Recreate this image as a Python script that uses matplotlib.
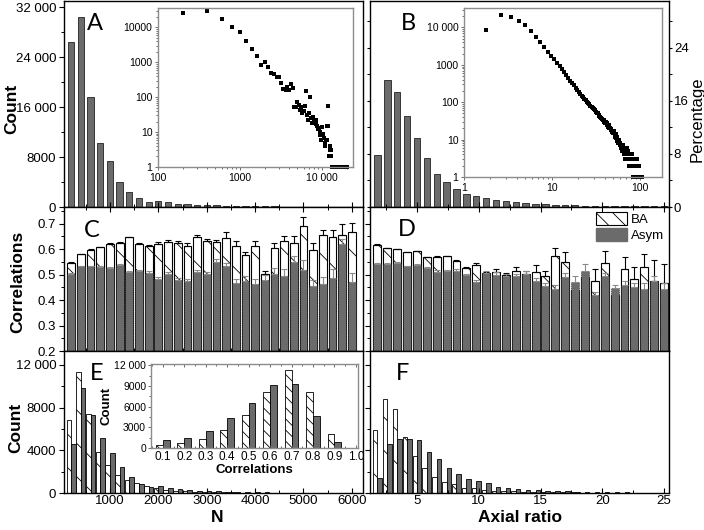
import numpy as np
import matplotlib
matplotlib.use("Agg")
import matplotlib.pyplot as plt
from matplotlib.patches import Patch
from matplotlib.ticker import MultipleLocator, NullFormatter, LogLocator

plt.rcParams["font.family"] = ["Liberation Sans", "DejaVu Sans"]
plt.rcParams["hatch.linewidth"] = 0.6

# ------------------------------------------------------------------ data
# Histogram of N: bins of 200, centres 200 ... 20 000
n_step = 200
n_counts = [
    26500, 30500, 17600, 10200, 7400, 4000, 2400, 1500, 850, 1000,
    750, 500, 450, 370, 390, 250, 170, 160, 190, 165,
    240, 180, 54, 52, 75, 60, 44, 52, 35, 39,
    56, 155, 30, 22, 35, 100, 25, 18, 27, 21,
    19, 22, 17, 15, 12, 13, 10, 8, 6, 14,
    8, 9, 7, 4, 5, 6, 6, 15, 56, 15,
    2, 3, 4, 2, 3, 1, 1, 0, 1, 1,
    0, 1, 1, 0, 1, 1, 0, 1, 1, 1,
    1, 0, 1, 1, 0, 1, 1, 1, 0, 1,
    1, 1, 0, 1, 1, 0, 1, 1, 1, 1,
]

# Histogram of the axial ratio: bins of 0.8, first centre 1.8
ar_first, ar_step = 1.8, 0.8
ar_counts = [
    8500, 20800, 18900, 14900, 11400, 8100, 5500, 4150, 3000, 2200,
    1750, 1400, 1150, 950, 780, 650, 540, 450, 380, 325,
    280, 245, 215, 190, 168, 150, 135, 122, 112, 102,
    95, 88, 80, 76, 70, 64, 62, 56, 52, 50,
    46, 44, 40, 38, 36, 33, 34, 30, 28, 29,
    25, 27, 22, 24, 20, 21, 18, 19, 16, 17,
    15, 17, 13, 12, 14, 11, 12, 9, 10, 8,
    10, 7, 8, 6, 7, 5, 6, 7, 5, 4,
    6, 5, 4, 3, 5, 4, 6, 3, 4, 3,
    5, 4, 2, 3, 4, 2, 3, 2, 3, 2,
    4, 2, 3, 1, 2, 3, 2, 1, 3, 2,
    1, 2, 3, 1, 2, 1, 2, 1, 1, 2,
    1, 1, 1, 0, 1, 1, 0, 1, 1, 1,
]

# Correlations against N (panel C)
ba_n = [0.547, 0.580, 0.598, 0.608, 0.620, 0.624, 0.646, 0.618, 0.612, 0.621,
        0.629, 0.625, 0.612, 0.649, 0.630, 0.627, 0.645, 0.612, 0.578, 0.611,
        0.503, 0.604, 0.630, 0.625, 0.690, 0.595, 0.654, 0.649, 0.657, 0.668]
ba_n_err = [0.002, 0.002, 0.002, 0.002, 0.003, 0.003, 0.003, 0.004, 0.004, 0.005,
            0.008, 0.007, 0.010, 0.008, 0.010, 0.007, 0.020, 0.020, 0.012, 0.020,
            0.012, 0.018, 0.021, 0.026, 0.035, 0.030, 0.020, 0.024, 0.040, 0.034]
asym_n = [0.503, 0.532, 0.532, 0.530, 0.524, 0.537, 0.509, 0.512, 0.506, 0.484,
          0.503, 0.479, 0.473, 0.509, 0.501, 0.549, 0.532, 0.468, 0.476, 0.464,
          0.479, 0.503, 0.496, 0.549, 0.517, 0.454, 0.464, 0.486, 0.618, 0.472]
asym_n_err = [0.003, 0.003, 0.003, 0.003, 0.004, 0.004, 0.005, 0.006, 0.006, 0.007,
              0.008, 0.008, 0.009, 0.010, 0.010, 0.012, 0.014, 0.016, 0.018, 0.018,
              0.020, 0.022, 0.024, 0.025, 0.040, 0.024, 0.025, 0.036, 0.020, 0.035]

# Correlations against axial ratio (panel D)
ba_ar = [0.617, 0.604, 0.600, 0.587, 0.592, 0.567, 0.569, 0.571, 0.552, 0.524,
         0.539, 0.506, 0.511, 0.498, 0.513, 0.503, 0.511, 0.494, 0.574, 0.551,
         0.440, 0.490, 0.473, 0.544, 0.420, 0.523, 0.484, 0.531, 0.476, 0.468]
ba_ar_err = [0.002, 0.002, 0.002, 0.002, 0.002, 0.003, 0.003, 0.003, 0.005, 0.007,
             0.008, 0.005, 0.010, 0.007, 0.015, 0.010, 0.025, 0.020, 0.031, 0.037,
             0.020, 0.015, 0.050, 0.050, 0.020, 0.046, 0.046, 0.051, 0.080, 0.075]
asym_ar = [0.543, 0.543, 0.545, 0.532, 0.536, 0.527, 0.511, 0.514, 0.514, 0.497,
           0.472, 0.506, 0.500, 0.493, 0.493, 0.503, 0.473, 0.454, 0.445, 0.490,
           0.472, 0.513, 0.421, 0.493, 0.447, 0.458, 0.450, 0.445, 0.473, 0.445]
asym_ar_err = [0.003, 0.003, 0.003, 0.003, 0.004, 0.004, 0.005, 0.005, 0.006, 0.007,
               0.008, 0.008, 0.009, 0.010, 0.010, 0.012, 0.013, 0.014, 0.015, 0.016,
               0.021, 0.030, 0.012, 0.015, 0.013, 0.018, 0.018, 0.020, 0.020, 0.022]

# Counts per N bin (panel E) and per axial-ratio bin (panel F)
e_ba = [6850, 11350, 7400, 3870, 2600, 1650, 1230, 950, 700, 480,
        300, 220, 160, 120, 100, 80, 65, 50, 40, 35,
        40, 25, 20, 18, 15, 12, 10, 8, 6, 5]
e_asym = [4600, 9850, 7320, 5120, 3720, 2440, 1500, 800, 600, 650,
          480, 330, 260, 210, 200, 160, 130, 100, 80, 65,
          70, 45, 35, 30, 25, 20, 16, 12, 10, 8]
f_ba = [5900, 8780, 7840, 5220, 3470, 2310, 1470, 1030, 840, 500,
        440, 280, 220, 180, 150, 120, 100, 80, 70, 60,
        50, 40, 40, 30, 30, 25, 20, 20, 15, 15]
f_asym = [1440, 4590, 5060, 5060, 4960, 3870, 3160, 2370, 1780, 1310,
          1150, 900, 590, 470, 380, 300, 250, 200, 170, 150,
          120, 100, 80, 70, 60, 50, 45, 40, 35, 30]

# Distribution of correlations (inset of E)
corr_bins = [0.1, 0.2, 0.3, 0.4, 0.5, 0.6, 0.7, 0.8, 0.9, 1.0]
corr_ba = [490, 725, 1360, 2560, 4740, 8120, 11260, 8120, 2090, 60]
corr_asym = [1120, 1500, 2460, 4350, 6520, 9090, 9230, 4590, 870, 20]

# Tick labels
count_a_ticks = [0, 8000, 16000, 24000, 32000]
count_a_labels = ["0", "8000", "16 000", "24 000", "32 000"]
count_e_ticks = [0, 4000, 8000, 12000]
count_e_labels = ["0", "4000", "8000", "12 000"]
pct_ticks = [0, 8, 16, 24]
pct_labels = ["0", "8", "16", "24"]
n_ticks = [1000, 2000, 3000, 4000, 5000, 6000]
n_labels = ["1000", "2000", "3000", "4000", "5000", "6000"]
corr_ticks = [0.2, 0.3, 0.4, 0.5, 0.6, 0.7]
corr_labels = ["0.2", "0.3", "0.4", "0.5", "0.6", "0.7"]
ins_a_x = [100, 1000, 10000]
ins_a_xl = ["100", "1000", "10 000"]
ins_a_y = [1, 10, 100, 1000, 10000]
ins_a_yl = ["1", "10", "100", "1000", "10000"]
ins_b_x = [1, 10, 100]
ins_b_xl = ["1", "10", "100"]
ins_b_y = [1, 10, 100, 1000, 10000]
ins_b_yl = ["1", "10", "100", "1000", "10 000"]
ins_e_y = [0, 3000, 6000, 9000, 12000]
ins_e_yl = ["0", "3000", "6000", "9000", "12 000"]

# ------------------------------------------------------------------ derived
n_counts = np.array(n_counts, dtype=float)
n_centres = n_step * np.arange(1, len(n_counts) + 1)
ar_counts = np.array(ar_counts, dtype=float)
ar_centres = ar_first + ar_step * np.arange(len(ar_counts))
ar_pct = 100 * ar_counts / ar_counts.sum()
n_show = 30  # bins visible in the linear panels

GREY = "#6b6b6b"
W, H = 704, 530
fig = plt.figure(figsize=(W / 100, H / 100), dpi=100)


def px_axes(left, top, right, bottom):
    return fig.add_axes([left / W, 1 - bottom / H, (right - left) / W, (bottom - top) / H])


ax_a = px_axes(64, 1, 363, 207)
ax_c = px_axes(64, 207, 363, 351)
ax_e = px_axes(64, 351, 363, 493)
ax_b = px_axes(370, 1, 669, 207)
ax_d = px_axes(370, 207, 669, 351)
ax_f = px_axes(370, 351, 669, 493)

n_xlim = (50, 6230)
ar_xlim = (1.2, 25.4)


def style_main(ax, top=False, bottom=True):
    for s in ax.spines.values():
        s.set_linewidth(1.0)
    ax.tick_params(axis="x", which="both", direction="in", top=top, bottom=bottom,
                   labelbottom=False, labelsize=9.5, pad=1.5)
    ax.tick_params(axis="y", which="both", direction="out", labelsize=9.5, pad=2)
    ax.tick_params(which="major", length=3.5, width=0.8)
    ax.tick_params(which="minor", length=2.2, width=0.7)


# --- A
nx = n_centres[:n_show]
ax_a.bar(nx, n_counts[:n_show], width=130, color=GREY, edgecolor="#222222", linewidth=0.6)
ax_a.set_xlim(*n_xlim)
ax_a.set_ylim(0, 33000)
ax_a.set_yticks(count_a_ticks, count_a_labels)
ax_a.yaxis.set_minor_locator(MultipleLocator(4000))
ax_a.xaxis.set_major_locator(MultipleLocator(1000))
ax_a.xaxis.set_minor_locator(MultipleLocator(500))
style_main(ax_a)

# --- C
ax_c.bar(nx, ba_n, width=160, color="white", edgecolor="black", hatch="\\",
         linewidth=0.8, zorder=1)
ax_c.errorbar(nx, ba_n, yerr=[np.zeros(n_show), ba_n_err], fmt="none", ecolor="black",
              elinewidth=0.8, capsize=2, capthick=0.8, zorder=1.5)
ax_c.bar(nx, asym_n, width=160, color=GREY, edgecolor="black", linestyle=":",
         linewidth=0.5, zorder=2)
ax_c.errorbar(nx, asym_n, yerr=[np.zeros(n_show), asym_n_err], fmt="none", ecolor="#8a8a8a",
              elinewidth=0.8, capsize=2, capthick=0.8, zorder=2.5)
ax_c.set_xlim(*n_xlim)
ax_c.set_ylim(0.2, 0.765)
ax_c.set_yticks(corr_ticks, corr_labels)
ax_c.yaxis.set_minor_locator(MultipleLocator(0.05))
ax_c.xaxis.set_major_locator(MultipleLocator(1000))
ax_c.xaxis.set_minor_locator(MultipleLocator(500))
style_main(ax_c, top=True)

# --- E
ax_e.bar(nx - 47, e_ba, width=94, color="white", edgecolor="black", hatch="\\", linewidth=0.6)
ax_e.bar(nx + 47, e_asym, width=94, color=GREY, edgecolor="black", linewidth=0.6)
ax_e.set_xlim(*n_xlim)
ax_e.set_ylim(0, 13300)
ax_e.set_yticks(count_e_ticks, count_e_labels)
ax_e.yaxis.set_minor_locator(MultipleLocator(2000))
ax_e.set_xticks(n_ticks, n_labels)
ax_e.xaxis.set_minor_locator(MultipleLocator(500))
style_main(ax_e)
ax_e.tick_params(axis="x", labelbottom=True)

# --- B
ax_x = ar_centres[:n_show]
ax_b.bar(ax_x, ar_pct[:n_show], width=0.52, color=GREY, edgecolor="#222222", linewidth=0.6)
ax_b.set_xlim(*ar_xlim)
ax_b.set_ylim(0, 31)
ax_b.yaxis.tick_right()
ax_b.set_yticks(pct_ticks, pct_labels)
ax_b.yaxis.set_minor_locator(MultipleLocator(4))
ax_b.xaxis.set_major_locator(MultipleLocator(5))
ax_b.xaxis.set_minor_locator(MultipleLocator(2.5))
style_main(ax_b)
ax_b.tick_params(axis="y", which="both", left=True, right=True, labelleft=False,
                 labelright=True, pad=1)
ax_b.tick_params(axis="y", which="major", length=2.5)

# --- D
ax_d.bar(ax_x, ba_ar, width=0.64, color="white", edgecolor="black", hatch="\\",
         linewidth=0.8, zorder=1)
ax_d.errorbar(ax_x, ba_ar, yerr=[np.zeros(n_show), ba_ar_err], fmt="none", ecolor="black",
              elinewidth=0.8, capsize=2, capthick=0.8, zorder=1.5)
ax_d.bar(ax_x, asym_ar, width=0.64, color=GREY, edgecolor="black", linestyle=":",
         linewidth=0.5, zorder=2)
ax_d.errorbar(ax_x, asym_ar, yerr=[np.zeros(n_show), asym_ar_err], fmt="none",
              ecolor="#8a8a8a", elinewidth=0.8, capsize=2, capthick=0.8, zorder=2.5)
ax_d.set_xlim(*ar_xlim)
ax_d.set_ylim(0.2, 0.765)
ax_d.set_yticks(corr_ticks)
ax_d.yaxis.set_minor_locator(MultipleLocator(0.05))
ax_d.xaxis.set_major_locator(MultipleLocator(5))
ax_d.xaxis.set_minor_locator(MultipleLocator(2.5))
style_main(ax_d, top=True)
ax_d.tick_params(axis="y", labelleft=False)
ax_d.legend(handles=[Patch(facecolor="white", edgecolor="black", hatch="\\\\", linewidth=0.8),
                     Patch(facecolor=GREY, edgecolor=GREY)],
            labels=["BA", "Asym"], loc="upper left", bbox_to_anchor=(0.757, 0.965),
            frameon=False, fontsize=9.5, handlelength=2.3, handleheight=1.1,
            handletextpad=0.3, labelspacing=0.2, borderaxespad=0, borderpad=0)

# --- F
ax_f.bar(ax_x - 0.18, f_ba, width=0.36, color="white", edgecolor="black", hatch="\\", linewidth=0.6)
ax_f.bar(ax_x + 0.18, f_asym, width=0.36, color=GREY, edgecolor="black", linewidth=0.6)
ax_f.set_xlim(*ar_xlim)
ax_f.set_ylim(0, 13300)
ax_f.set_yticks(count_e_ticks)
ax_f.yaxis.set_minor_locator(MultipleLocator(2000))
ax_f.xaxis.set_major_locator(MultipleLocator(5))
ax_f.xaxis.set_minor_locator(MultipleLocator(2.5))
style_main(ax_f)
ax_f.tick_params(axis="x", labelbottom=True)
ax_f.tick_params(axis="y", labelleft=False)


# ------------------------------------------------------------------ insets
def style_inset(ax):
    for s in ax.spines.values():
        s.set_color("#8c8c8c")
        s.set_linewidth(1.0)
    ax.tick_params(which="both", labelsize=7.5, color="#555555", width=0.6, pad=1.5)
    ax.tick_params(which="major", length=2.5)
    ax.tick_params(which="minor", length=1.4)


in_a = px_axes(158, 8, 353, 167)
m = n_counts > 0
in_a.plot(n_centres[m], n_counts[m], ls="none", marker="s", ms=2.2, mew=0,
          color="black", clip_on=False)
in_a.set_xscale("log")
in_a.set_yscale("log")
in_a.set_xlim(100, 24000)
in_a.set_ylim(1, 36000)
in_a.set_xticks(ins_a_x, ins_a_xl)
in_a.set_yticks(ins_a_y, ins_a_yl)
for axis in (in_a.xaxis, in_a.yaxis):
    axis.set_minor_locator(LogLocator(subs=np.arange(2, 10)))
    axis.set_minor_formatter(NullFormatter())
style_inset(in_a)

in_b = px_axes(464, 8, 662, 177)
m = ar_counts > 0
in_b.plot(ar_centres[m], ar_counts[m], ls="none", marker="s", ms=2.2, mew=0,
          color="black", clip_on=False)
in_b.set_xscale("log")
in_b.set_yscale("log")
in_b.set_xlim(1, 178)
in_b.set_ylim(1, 33000)
in_b.set_xticks(ins_b_x, ins_b_xl)
in_b.set_yticks(ins_b_y, ins_b_yl)
for axis in (in_b.xaxis, in_b.yaxis):
    axis.set_minor_locator(LogLocator(subs=np.arange(2, 10)))
    axis.set_minor_formatter(NullFormatter())
style_inset(in_b)

in_e = px_axes(151, 364, 358, 448)
cb = np.array(corr_bins)
in_e.bar(cb - 0.016, corr_ba, width=0.032, color="white", edgecolor="black",
         hatch="\\\\\\", linewidth=0.6)
in_e.bar(cb + 0.016, corr_asym, width=0.032, color=GREY, edgecolor="black", linewidth=0.6)
in_e.set_xlim(0.045, 1.01)
in_e.set_ylim(0, 12200)
in_e.set_xticks(corr_bins, [f"{v:.1f}" for v in corr_bins])
in_e.set_yticks(ins_e_y, ins_e_yl)
in_e.xaxis.set_minor_locator(MultipleLocator(0.05))
in_e.yaxis.set_minor_locator(MultipleLocator(1500))
style_inset(in_e)
in_e.tick_params(axis="x", which="both", direction="in", top=True, labelsize=8.5, pad=2)
in_e.tick_params(axis="y", labelsize=7.5, pad=1)
in_e.set_xlabel("Correlations", fontsize=9.5, fontweight="bold", labelpad=1)
in_e.set_ylabel("Count", fontsize=9.5, fontweight="bold", labelpad=1)

# ------------------------------------------------------------------ labels
for ax, letter, (x, y) in [(ax_a, "A", (0.104, 0.893)), (ax_b, "B", (0.127, 0.893)),
                           (ax_c, "C", (0.094, 0.84)), (ax_d, "D", (0.124, 0.847)),
                           (ax_e, "E", (0.11, 0.845)), (ax_f, "F", (0.11, 0.845))]:
    ax.text(x, y, letter, transform=ax.transAxes, ha="center", va="center",
            fontsize=17, family=["Lato", "DejaVu Sans"])


def fig_text(x, y, s, **kw):
    fig.text(x / W, 1 - y / H, s, ha="center", va="center", **kw)


fig_text(12, 109, "Count", rotation=90, fontsize=12.5, fontweight="bold")
fig_text(18, 282, "Correlations", rotation=90, fontsize=12.5, fontweight="bold")
fig_text(16, 428, "Count", rotation=90, fontsize=12.5, fontweight="bold")
fig_text(217, 517, "N", fontsize=12.5, fontweight="bold")
fig_text(520, 517, "Axial ratio", fontsize=12.5, fontweight="bold")
fig_text(697, 119, "Percentage", rotation=90, fontsize=12)

fig.savefig("out.png", dpi=100)
